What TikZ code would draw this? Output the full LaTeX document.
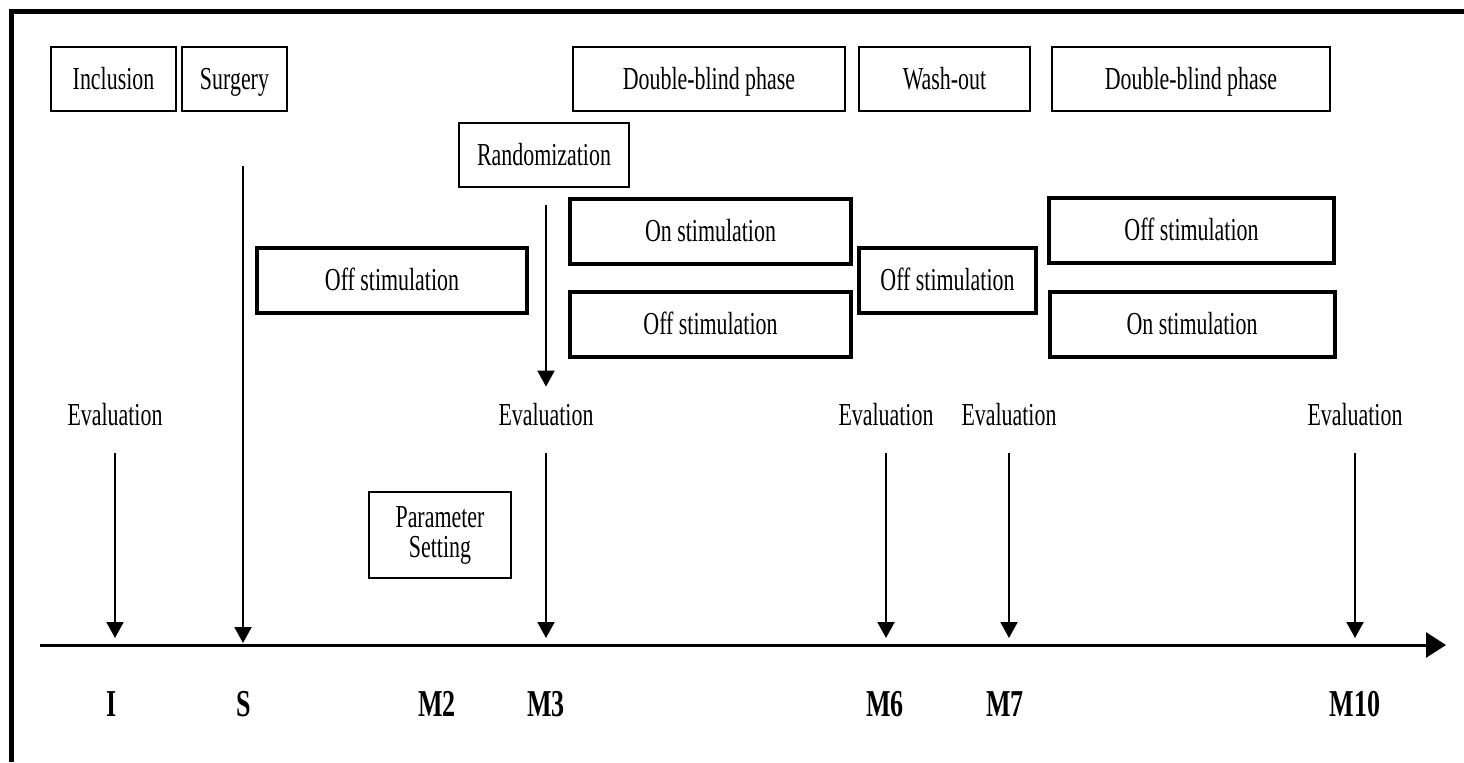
\documentclass[tikz,border=0pt]{standalone}
\usepackage{fontspec}
\setmainfont{Liberation Serif}[FakeStretch=0.685]
\usetikzlibrary{arrows.meta}
\begin{document}
\begin{tikzpicture}[x=0.5pt,y=-0.5pt,
  every node/.style={font=\fontsize{16}{15}\selectfont, inner sep=0pt},
  one/.style={text height=12pt, text depth=2pt},
  box/.style={draw, line width=1pt, align=center, minimum height=32pt},
  sbox/.style={draw, line width=2pt, minimum height=32.5pt, one},
  arr/.style={-{Triangle[length=8pt,width=8.5pt]}, line width=1pt},
  tick/.style={font=\fontsize{19}{20}\selectfont\bfseries}]
\useasboundingbox (0,0) rectangle (1464,762);
% frame
\draw[line width=2.5pt] (11,762) -- (11,11) -- (1464,11);
% top row
\node[box, one, minimum width=62.5pt] (incl) at (113.5,79) {Inclusion};
\node[box, one, minimum width=52.5pt] (surg) at (234.5,79) {Surgery};
\node[box, one, minimum width=136pt] (db1) at (709,79) {Double-blind phase};
\node[box, one, minimum width=85.5pt] (wash) at (944.5,79) {Wash-out};
\node[box, one, minimum width=139pt] (db2) at (1191,79) {Double-blind phase};
\node[box, one, minimum width=85pt] (rand) at (544,155) {Randomization};
% stimulation boxes
\node[sbox, minimum width=135pt] (offA) at (392,280) {Off stimulation};
\node[sbox, minimum width=140.5pt] (onB) at (710.5,231) {On stimulation};
\node[sbox, minimum width=140.5pt] (offB) at (710.5,324.5) {Off stimulation};
\node[sbox, minimum width=88.5pt] (offC) at (947.5,280) {Off stimulation};
\node[sbox, minimum width=142.5pt] (offD) at (1191.5,230.5) {Off stimulation};
\node[sbox, minimum width=142.5pt] (onD) at (1192,324.5) {On stimulation};
% parameter setting
\node[box, minimum width=71pt, minimum height=43pt] (param) at (440,535) {Parameter\\Setting};
% evaluations
\node[one] (evI) at (115,415) {Evaluation};
\node[one] (evM3) at (546,415) {Evaluation};
\node[one] (evM6) at (886,415) {Evaluation};
\node[one] (evM7) at (1009,415) {Evaluation};
\node[one] (evM10) at (1355,415) {Evaluation};
% axis
\coordinate (axL) at (40,645);
\coordinate (axR) at (1446,645);
\draw[line width=1.5pt, -{Triangle[length=10pt,width=12.5pt]}] (axL) -- (axR);
\coordinate (tI) at (115,638);
\coordinate (tS) at (243,643);
\coordinate (tM3) at (546,638);
\coordinate (tM6) at (886,638);
\coordinate (tM7) at (1009,638);
\coordinate (tM10) at (1355,638);
\draw[arr, shorten <=19pt] (evI.center) -- (tI);
\draw[arr, shorten <=19pt] (evM3.center) -- (tM3);
\draw[arr, shorten <=19pt] (evM6.center) -- (tM6);
\draw[arr, shorten <=19pt] (evM7.center) -- (tM7);
\draw[arr, shorten <=19pt] (evM10.center) -- (tM10);
\draw[arr, shorten <=27pt] (surg.south -| tS) -- (tS);
\draw[arr, shorten <=8.5pt, shorten >=7pt] (rand.south -| evM3.north) -- (evM3.north);
% axis labels
\node[tick] (lI) at (112,704) {I};
\node[tick] (lS) at (244,704) {S};
\node[tick] (lM2) at (437,704) {M2};
\node[tick] (lM3) at (546,704) {M3};
\node[tick] (lM6) at (885,704) {M6};
\node[tick] (lM7) at (1005,704) {M7};
\node[tick] (lM10) at (1355,704) {M10};
\end{tikzpicture}
\end{document}
